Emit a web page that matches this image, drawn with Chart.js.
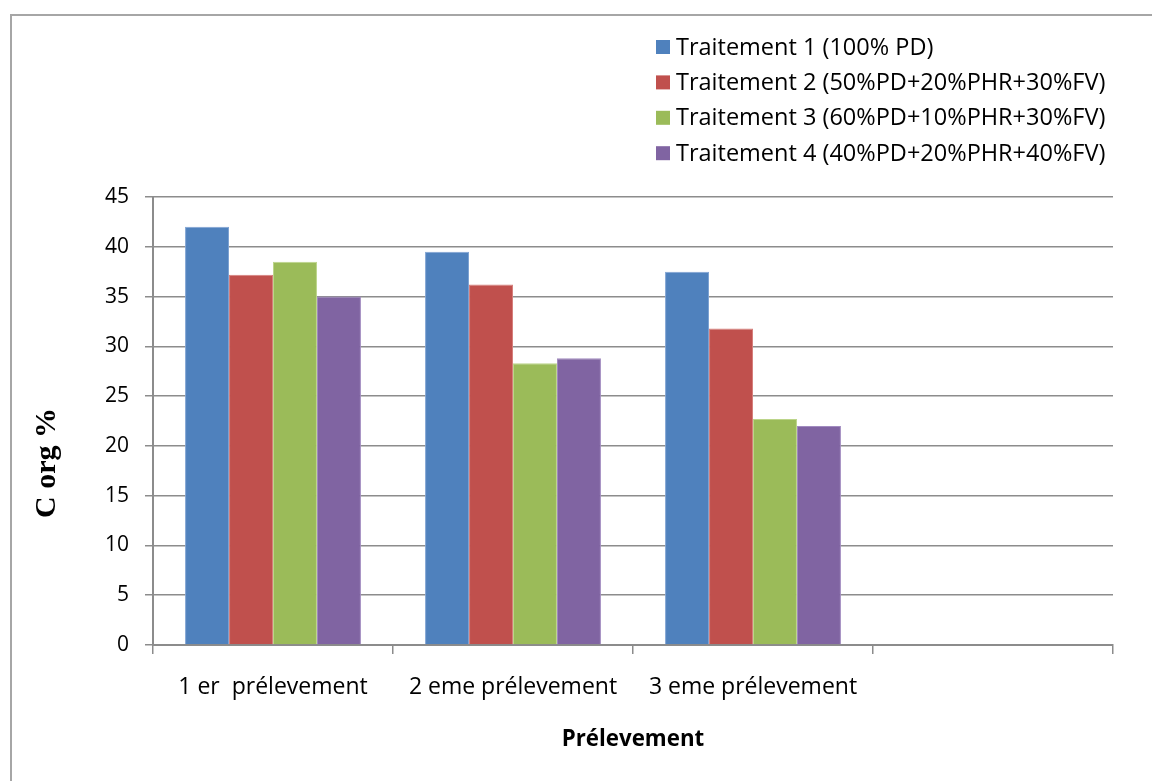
<!DOCTYPE html>
<html>
<head>
<meta charset="utf-8">
<script src="https://cdn.jsdelivr.net/npm/chart.js@4/dist/chart.umd.min.js"></script>
<style>
  html, body { margin: 0; padding: 0; background: #ffffff; }
  #wrap { width: 1152px; height: 781px; }
</style>
</head>
<body>
<div id="wrap"><canvas id="c" width="1152" height="781"></canvas></div>
<script>
// Sampling rounds (the fourth slot is left empty on the axis)
const categories = ['1 er  prélevement', '2 eme prélevement', '3 eme prélevement', ''];

// Organic carbon (%) per treatment
const traitement1 = [42.0, 39.5, 37.5, null];
const traitement2 = [37.2, 36.2, 31.8, null];
const traitement3 = [38.5, 28.3, 22.7, null];
const traitement4 = [35.0, 28.8, 22.0, null];

const seriesNames = [
  'Traitement 1 (100% PD)',
  'Traitement 2 (50%PD+20%PHR+30%FV)',
  'Traitement 3 (60%PD+10%PHR+30%FV)',
  'Traitement 4 (40%PD+20%PHR+40%FV)'
];
const seriesColors = ['#4F81BD', '#C0504D', '#9BBB59', '#8064A2'];
const seriesEdges  = ['#7FA3D3', '#D67F7C', '#BCD58A', '#A18BC0'];

const yTicks = { min: 0, max: 45, step: 5 };
const yTitle = 'C org %';

const FONT = '"Open Sans", Lato, "Liberation Sans", sans-serif';
const SERIF = '"Liberation Serif", "Times New Roman", serif';
const GRID = '#8C8C8C';

// Outer frame and white background
const framePlugin = {
  id: 'frame',
  beforeDraw(chart) {
    const ctx = chart.ctx;
    ctx.save();
    ctx.fillStyle = '#ffffff';
    ctx.fillRect(0, 0, chart.width, chart.height);
    ctx.strokeStyle = '#A6A6A6';
    ctx.lineWidth = 2;
    ctx.strokeRect(11, 15, chart.width + 20, chart.height + 20);
    ctx.restore();
  }
};

// Stacked legend in the upper right, built from the datasets
const stackedLegend = {
  id: 'stackedLegend',
  afterDraw(chart) {
    const ctx = chart.ctx;
    const x0 = 656, y0 = 47, rowH = 35.4, box = 14;
    ctx.save();
    ctx.font = '23.5px ' + FONT;
    ctx.textBaseline = 'middle';
    ctx.textAlign = 'left';
    chart.data.datasets.forEach((ds, i) => {
      const y = y0 + i * rowH;
      ctx.fillStyle = ds.backgroundColor;
      ctx.fillRect(x0, y - box / 2, box, box);
      ctx.fillStyle = '#000000';
      ctx.fillText(ds.label, x0 + 20, y + 1);
    });
    ctx.restore();
  }
};

// Vertical value-axis title, set a little below the middle of the axis
const yTitlePlugin = {
  id: 'yTitle',
  afterDraw(chart) {
    const ctx = chart.ctx;
    ctx.save();
    ctx.translate(47, 463);
    ctx.rotate(-Math.PI / 2);
    ctx.font = 'bold 30px ' + SERIF;
    ctx.fillStyle = '#000000';
    ctx.textAlign = 'center';
    ctx.textBaseline = 'middle';
    ctx.fillText(yTitle, 0, 0);
    ctx.restore();
  }
};

const datasets = [traitement1, traitement2, traitement3, traitement4].map((vals, i) => ({
  label: seriesNames[i],
  data: vals,
  backgroundColor: seriesColors[i],
  borderColor: seriesEdges[i],
  borderWidth: 1,
  categoryPercentage: 0.733,
  barPercentage: 1.0
}));

new Chart(document.getElementById('c'), {
  type: 'bar',
  data: { labels: categories, datasets },
  options: {
    responsive: false,
    animation: false,
    layout: { padding: { top: 197, right: 39, bottom: 0, left: 0 } },
    plugins: {
      legend: { display: false },
      tooltip: { enabled: false }
    },
    scales: {
      x: {
        grid: {
          display: true,
          offset: true,
          drawOnChartArea: false,
          drawTicks: true,
          tickLength: 9,
          color: GRID,
          lineWidth: 1.5
        },
        border: { display: true, color: GRID, width: 2 },
        ticks: {
          color: '#000000',
          font: { family: FONT, size: 23 },
          padding: 20,
          maxRotation: 0,
          autoSkip: false
        },
        title: {
          display: true,
          text: 'Prélevement',
          color: '#000000',
          font: { family: FONT, size: 22.3, weight: 'bold' },
          padding: { top: 0, bottom: 28 }
        },
        afterFit(scale) { scale.height = 781 - 645; }
      },
      y: {
        min: yTicks.min,
        max: yTicks.max,
        ticks: {
          stepSize: yTicks.step,
          color: '#000000',
          font: { family: FONT, size: 21 },
          padding: 16
        },
        grid: {
          color: GRID,
          lineWidth: 1.5,
          tickLength: 8
        },
        border: { display: true, color: GRID, width: 2 },
        afterFit(scale) { scale.width = 153; }
      }
    }
  },
  plugins: [framePlugin, stackedLegend, yTitlePlugin]
});
</script>
</body>
</html>
